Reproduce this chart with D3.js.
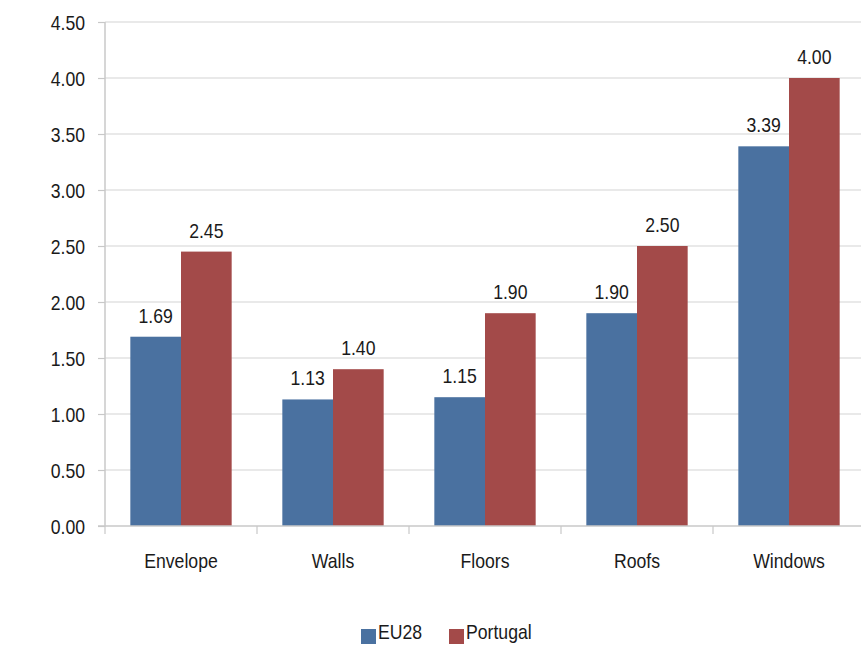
<!DOCTYPE html>
<html><head><meta charset="utf-8">
<script src="https://cdn.jsdelivr.net/npm/d3@7"></script>
<style>body{margin:0;background:#fff}svg{display:block}text{font-family:"Liberation Sans",Arial,sans-serif;fill:#1a1a1a}</style>
</head><body><svg id="c" width="861" height="650"></svg>
<script>
const categories = ["Envelope","Walls","Floors","Roofs","Windows"];
const seriesNames = ["EU28","Portugal"];
const eu28 = [1.69,1.13,1.15,1.90,3.39];
const portugal = [2.45,1.40,1.90,2.50,4.00];
const yTicks = [0,0.5,1,1.5,2,2.5,3,3.5,4,4.5];
const colors = ["#4A71A0","#A34A49"];

const FONT = "'Liberation Sans',Arial,sans-serif";
const FS = 21;
const svg = d3.select("#c");
const mL = 105, mR = 865, mT = 22, mB = 526;
const x = d3.scaleBand().domain(categories).range([mL,mR]);
const xs = d3.scaleBand().domain(seriesNames).range([0,x.bandwidth()]).paddingInner(0).paddingOuter(0.5);
const y = d3.scaleLinear().domain([0,4.5]).range([mB,mT]);

// gridlines
svg.append("g").selectAll("line").data(yTicks.slice(1)).join("line")
  .attr("x1",mL).attr("x2",mR).attr("y1",d=>y(d)).attr("y2",d=>y(d))
  .attr("stroke","#d4d4d4").attr("stroke-width",1.2);

const series = [eu28, portugal];
const fmt = d3.format(".2f");
series.forEach((vals,si)=>{
  const g = svg.append("g");
  g.selectAll("rect").data(vals).join("rect")
    .attr("x",(d,i)=>x(categories[i])+xs(seriesNames[si]))
    .attr("width",xs.bandwidth())
    .attr("y",d=>y(d)).attr("height",d=>mB-y(d))
    .attr("fill",colors[si]);
  g.selectAll("text").data(vals).join("text")
    .attr("x",(d,i)=>x(categories[i])+xs(seriesNames[si])+xs.bandwidth()/2)
    .attr("y",d=>y(d)-14)
    .attr("text-anchor","middle").attr("font-size",FS)
    .text(d=>fmt(d));
});

// y axis
const yAxis = d3.axisLeft(y).tickValues(yTicks).tickFormat(fmt).tickSize(7).tickPadding(13);
const ya = svg.append("g").attr("transform",`translate(${mL},0)`).call(yAxis);
ya.select(".domain").attr("stroke","#c8c8c8").attr("stroke-width",1.5).attr("d",`M0,${mT}V${mB}`);
ya.selectAll(".tick line").attr("stroke","#c8c8c8").attr("stroke-width",1.2);
ya.selectAll(".tick text").attr("font-size",FS).style("font-family",FONT).attr("fill","#1a1a1a").attr("dy","0.36em");

// x axis
const xa = svg.append("g").attr("transform",`translate(0,${mB})`);
xa.append("line").attr("x1",mL-7).attr("x2",mR).attr("y1",0).attr("y2",0).attr("stroke","#c8c8c8").attr("stroke-width",1.5);
xa.selectAll("line.t").data(categories.concat(["_end"])).join("line").attr("class","t")
  .attr("x1",(d,i)=>mL+i*x.step()).attr("x2",(d,i)=>mL+i*x.step())
  .attr("y1",0).attr("y2",8).attr("stroke","#c8c8c8").attr("stroke-width",1.2);
xa.selectAll("text").data(categories).join("text")
  .attr("x",d=>x(d)+x.bandwidth()/2).attr("y",42)
  .attr("text-anchor","middle").attr("font-size",FS).text(d=>d);

// legend
const leg = svg.append("g");
const legX = [361,449];
seriesNames.forEach((n,i)=>{
  leg.append("rect").attr("x",legX[i]).attr("y",629).attr("width",15).attr("height",15).attr("fill",colors[i]);
  leg.append("text").attr("x",legX[i]+17).attr("y",639).attr("font-size",FS).text(n);
});

// condense text (narrow face look)
svg.selectAll("text").each(function(){
  const w = this.getComputedTextLength();
  d3.select(this).attr("textLength", (w*0.84).toFixed(1)).attr("lengthAdjust","spacingAndGlyphs");
});
</script></body></html>
